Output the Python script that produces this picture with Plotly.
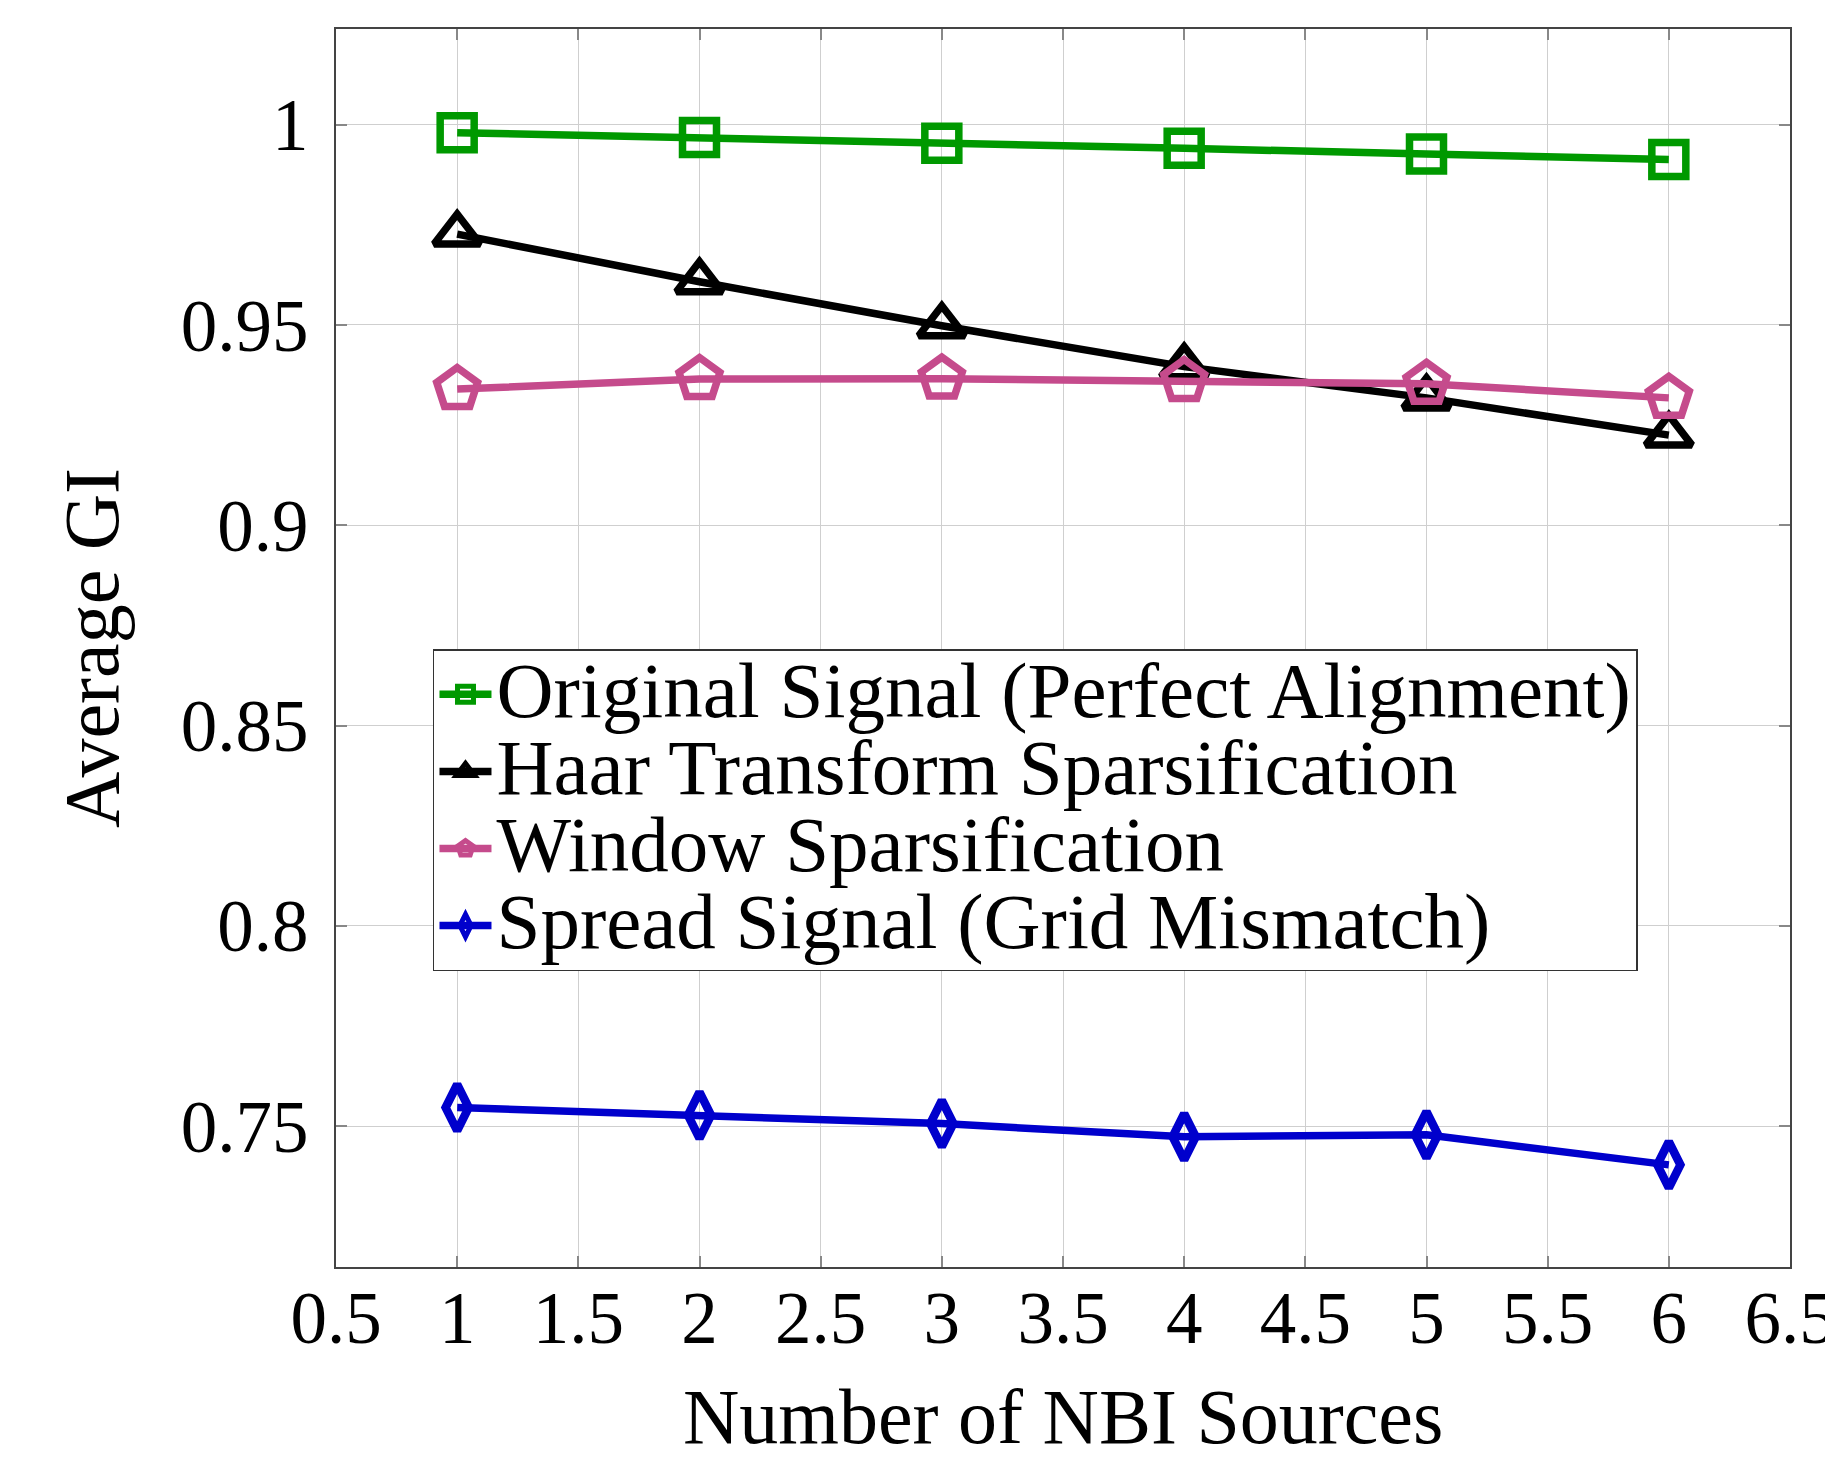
import plotly.graph_objects as go

x_sources = [1, 2, 3, 4, 5, 6]
original_signal = [0.9980, 0.9968, 0.9954, 0.9941, 0.9927, 0.9913]
haar_sparsification = [0.9727, 0.9608, 0.9498, 0.9396, 0.9318, 0.9225]
window_sparsification = [0.9340, 0.9365, 0.9366, 0.9360, 0.9353, 0.9318]
spread_signal = [0.7546, 0.7527, 0.7506, 0.7473, 0.7478, 0.7403]

series_names = [
    "Original Signal (Perfect Alignment)",
    "Haar Transform Sparsification",
    "Window Sparsification",
    "Spread Signal (Grid Mismatch)",
]

x_title = "Number of NBI Sources"
y_title = "Average GI"

x_tick_vals = [0.5, 1, 1.5, 2, 2.5, 3, 3.5, 4, 4.5, 5, 5.5, 6, 6.5]
x_tick_text = ["0.5", "1", "1.5", "2", "2.5", "3", "3.5", "4", "4.5", "5", "5.5", "6", "6.5"]
y_tick_vals = [0.75, 0.8, 0.85, 0.9, 0.95, 1.0]
y_tick_text = ["0.75", "0.8", "0.85", "0.9", "0.95", "1"]

FONT = "Liberation Serif"
LEGEND_TEXT_PX = 79

styles = [
    (original_signal, "#009900", "square-open", 34, 7.5),
    (haar_sparsification, "#000000", "triangle-up-open", 40, 7.5),
    (window_sparsification, "#C54B8C", "pentagon-open", 43, 7.5),
    (spread_signal, "#0000CC", "diamond-tall-open", 33, 8.5),
]

fig = go.Figure()
for (vals, color, sym, size, mlw), name in zip(styles, series_names):
    fig.add_trace(go.Scatter(
        x=x_sources, y=vals, mode="lines+markers",
        name='<span style="font-size:%dpx">%s</span>' % (LEGEND_TEXT_PX, name),
        line=dict(color=color, width=7.5),
        marker=dict(symbol=sym, size=size, color=color,
                    line=dict(color=color, width=mlw)),
    ))

axis_common = dict(
    showgrid=True, gridcolor="#cfcfcf", gridwidth=1.2,
    showline=True, linecolor="#444444", linewidth=1.6, mirror="allticks",
    ticks="inside", ticklen=11, tickcolor="#888888", tickwidth=1.5,
    zeroline=False, automargin=False, ticklabeloverflow="allow",
    tickfont=dict(family=FONT, size=73, color="black"),
)

fig.update_layout(
    width=1817, height=1441,
    margin=dict(l=328, r=35, t=21, b=182),
    paper_bgcolor="white", plot_bgcolor="white",
    font=dict(family=FONT, color="black"),
    showlegend=True,
    legend=dict(
        x=0.0667, y=0.499, xanchor="left", yanchor="top",
        bgcolor="white", bordercolor="#333333", borderwidth=1.5,
        font=dict(family=FONT, size=57, color="black"),
        itemwidth=52, tracegroupgap=0,
    ),
    xaxis=dict(
        range=[0.5, 6.5], tickvals=x_tick_vals, ticktext=x_tick_text,
        ticklabelstandoff=-13,
        **axis_common,
    ),
    yaxis=dict(
        range=[0.7148, 1.0239], tickvals=y_tick_vals, ticktext=y_tick_text,
        ticklabelstandoff=11,
        title=dict(text=y_title, font=dict(family=FONT, size=78), standoff=37),
        **axis_common,
    ),
    annotations=[dict(
        text=x_title, xref="paper", yref="paper", x=0.5, y=0,
        xanchor="center", yanchor="middle", yshift=-149, showarrow=False,
        font=dict(family=FONT, size=78, color="black"),
    )],
)

fig.write_html("out.html")
